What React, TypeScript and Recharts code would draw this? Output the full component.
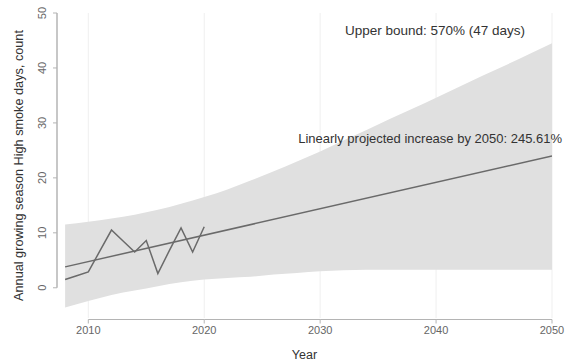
import React from 'react';
import {
  ComposedChart,
  Area,
  Line,
  XAxis,
  YAxis,
  CartesianGrid,
  ReferenceLine,
} from 'recharts';

// observed seasons
const obsYears = [2008, 2009, 2010, 2011, 2012, 2013, 2014, 2015, 2016, 2017, 2018, 2019, 2020];
const obsDays = [1.5, 2.2, 2.9, 6.7, 10.5, 8.5, 6.5, 8.6, 2.6, 6.8, 10.9, 6.5, 11.1];

// fitted linear trend, end points
const fitYears = [2008, 2050];
const fitDays = [3.8, 24.0];

// prediction band
const bandYears = [2008, 2010, 2012, 2014, 2016, 2018, 2020, 2022, 2024, 2026, 2028, 2030, 2032, 2034, 2036, 2038, 2040, 2042, 2044, 2046, 2048, 2050];
const bandLow = [-3.6, -2.4, -1.3, -0.5, 0.3, 1.0, 1.5, 1.8, 2.0, 2.4, 2.7, 3.0, 3.2, 3.3, 3.3, 3.3, 3.3, 3.3, 3.3, 3.3, 3.3, 3.3];
const bandHigh = [11.5, 12.0, 12.6, 13.3, 14.2, 15.3, 16.5, 17.9, 19.5, 21.2, 23.0, 24.8, 26.8, 28.7, 30.7, 32.6, 34.6, 36.6, 38.6, 40.5, 42.5, 44.5];

const xTicks = [2010, 2020, 2030, 2040, 2050];
const yTicks = [0, 10, 20, 30, 40, 50];

const X_MIN = 2007.3;
const X_MAX = 2050;
const Y_MIN = -5.5;
const Y_MAX = 50;

const WIDTH = 568;
const HEIGHT = 362;
const MARGIN = { top: 13, right: 16, bottom: 0, left: 0 };
const Y_AXIS_W = 57;
const X_AXIS_H = 44;
const TICK = 4;
// pixels per year, used to join x ticks with the axis line
const PX_PER_YEAR = (WIDTH - MARGIN.left - MARGIN.right - Y_AXIS_W) / (X_MAX - X_MIN);

const FONT = '"Liberation Sans", Arial, sans-serif';
const AXIS_COLOR = '#b4b4b4';

type Row = { year: number; obs?: number; fit?: number; band?: [number, number] };

const buildRows = (): Row[] => {
  const map = new Map<number, Row>();
  const get = (y: number) => {
    if (!map.has(y)) map.set(y, { year: y });
    return map.get(y)!;
  };
  obsYears.forEach((y, i) => (get(y).obs = obsDays[i]));
  fitYears.forEach((y, i) => (get(y).fit = fitDays[i]));
  bandYears.forEach((y, i) => (get(y).band = [bandLow[i], bandHigh[i]]));
  return Array.from(map.values()).sort((a, b) => a.year - b.year);
};

const rows = buildRows();

const YTick = ({ x, y, payload }: any) => (
  <text
    x={x - 5}
    y={y}
    transform={`rotate(-90, ${x - 5}, ${y})`}
    textAnchor="middle"
    fill="#666"
    fontSize={11}
    fontFamily={FONT}
  >
    {payload.value}
  </text>
);

// x tick: tick mark, label, and the axis segment back to the previous tick
const XTick = ({ x, payload }: any) => {
  const axisY = HEIGHT - MARGIN.bottom - X_AXIS_H + 1.5;
  const i = xTicks.indexOf(Number(payload.value));
  const step = i > 0 ? (xTicks[i] - xTicks[i - 1]) * PX_PER_YEAR : 0;
  return (
    <g>
      {step > 0 && (
        <path d={`M${x - step},${axisY}H${x}`} stroke={AXIS_COLOR} strokeWidth={1} fill="none" />
      )}
      <path d={`M${x},${axisY}V${axisY + TICK}`} stroke={AXIS_COLOR} strokeWidth={1} fill="none" />
      <text
        x={x}
        y={axisY + TICK + 2}
        dy="0.75em"
        textAnchor="middle"
        fill="#666"
        fontSize={11}
        fontFamily={FONT}
      >
        {payload.value}
      </text>
    </g>
  );
};

export default function App() {
  return (
    <div style={{ position: 'absolute', left: 0, top: 0, width: WIDTH, height: HEIGHT, background: '#fff', fontFamily: FONT }}>
      <ComposedChart width={WIDTH} height={HEIGHT} data={rows} margin={MARGIN}>
        <CartesianGrid vertical horizontal={false} stroke="#efefef" verticalValues={xTicks} />
        <XAxis
          dataKey="year"
          type="number"
          domain={[X_MIN, X_MAX]}
          allowDataOverflow
          ticks={xTicks}
          interval={0}
          height={X_AXIS_H}
          axisLine={false}
          tickLine={false}
          tickSize={TICK}
          tick={<XTick />}
          label={{ value: 'Year', position: 'insideBottom', offset: 3, fill: '#333', fontSize: 12.5, fontFamily: FONT }}
        />
        <YAxis
          type="number"
          domain={[Y_MIN, Y_MAX]}
          allowDataOverflow
          ticks={yTicks}
          width={Y_AXIS_W}
          axisLine={false}
          tickLine={{ stroke: AXIS_COLOR }}
          tickSize={TICK}
          tick={<YTick />}
          label={{
            value: 'Annual growing season High smoke days, count',
            angle: -90,
            position: 'insideLeft',
            offset: 18,
            fill: '#333',
            fontSize: 12.7,
            fontFamily: FONT,
            style: { textAnchor: 'middle' },
          }}
        />
        <Area
          dataKey="band"
          type="monotone"
          stroke="none"
          fill="#e0e0e0"
          fillOpacity={1}
          connectNulls
          isAnimationActive={false}
        />
        {/* y axis line only spans the tick range */}
        <ReferenceLine
          segment={[{ x: X_MIN, y: 0 }, { x: X_MIN, y: 50 }]}
          stroke={AXIS_COLOR}
          strokeWidth={1.5}
          ifOverflow="visible"
        />
        <Line
          dataKey="fit"
          stroke="#6a6a6a"
          strokeWidth={1.5}
          dot={false}
          connectNulls
          isAnimationActive={false}
        />
        <Line
          dataKey="obs"
          type="linear"
          stroke="#6a6a6a"
          strokeWidth={1.5}
          dot={false}
          connectNulls
          isAnimationActive={false}
        />
      </ComposedChart>
      <div
        style={{
          position: 'absolute',
          left: 285,
          top: 23,
          width: 300,
          textAlign: 'center',
          fontSize: 13.5,
          color: '#333',
          whiteSpace: 'nowrap',
        }}
      >
        Upper bound: 570% (47 days)
      </div>
      <div
        style={{
          position: 'absolute',
          right: 6,
          top: 131,
          fontSize: 13,
          color: '#333',
          whiteSpace: 'nowrap',
        }}
      >
        Linearly projected increase by 2050: 245.61%
      </div>
    </div>
  );
}
